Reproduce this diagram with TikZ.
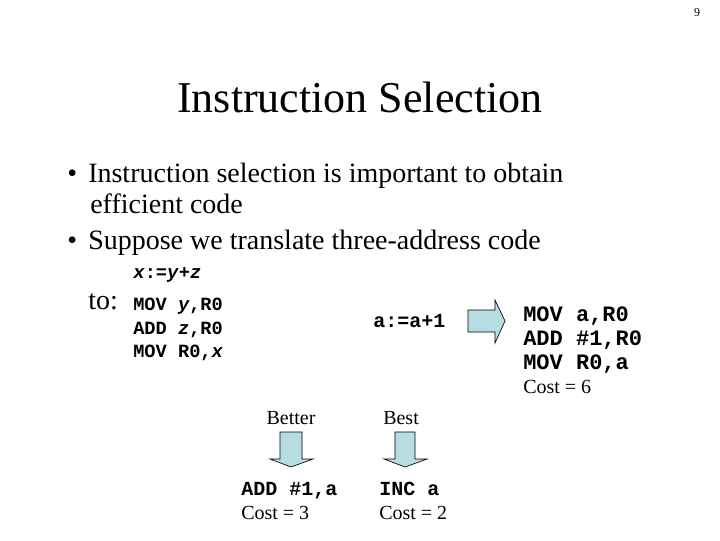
\documentclass[tikz,border=0pt]{standalone}
\usepackage{fontspec}
\setmainfont{Liberation Serif}
\setmonofont{Liberation Mono}
\begin{document}
\begin{tikzpicture}[x=0.75pt,y=-0.75pt,
  txt/.style={anchor=west,inner sep=0pt,yshift=-3pt,text height=1.5ex,text depth=0.4ex,font=\fontsize{21}{24}\selectfont},
  code/.style={anchor=west,inner sep=0pt,yshift=-2pt,text height=1.5ex,text depth=0.4ex,font=\fontsize{15}{17}\selectfont\ttfamily\bfseries},
  lcode/.style={code,font=\fontsize{14}{15}\selectfont\ttfamily\bfseries},
  rcode/.style={code,font=\fontsize{16.5}{18}\selectfont\ttfamily\bfseries},
  small/.style={anchor=west,inner sep=0pt,yshift=-2pt,text height=1.5ex,text depth=0.4ex,font=\fontsize{15}{17}\selectfont},
  fat/.style={fill={rgb,255:red,183;green,221;blue,226},draw=black,line width=0.5pt}]
\useasboundingbox (0,0) rectangle (720,540);
\node[inner sep=0pt,font=\fontsize{9}{10}\selectfont] (pg) at (697,13) {9};
\node[inner sep=0pt,font=\fontsize{33}{36}\selectfont] (title) at (360,97) {Instruction Selection};
\node[txt] (b1) at (67,175) {•};
\node[txt] (l1) at (88,175) {Instruction selection is important to obtain};
\node[txt] (l2) at (90,206) {efficient code};
\node[txt] (b2) at (67,242) {•};
\node[txt] (l3) at (88,242) {Suppose we translate three-address code};
\node[lcode] (c0) at (133,272) {\textit{x}:=\textit{y}+\textit{z}};
\node[txt] (to) at (88,302) {to:};
\node[lcode] (c1) at (133,304) {MOV \textit{y},R0};
\node[lcode] (c2) at (133,328) {ADD \textit{z},R0};
\node[lcode] (c3) at (133,351) {MOV R0,\textit{x}};
\node[code] (a) at (373,321) {a:=a+1};
\node[rcode] (r1) at (523,315) {MOV a,R0};
\node[rcode] (r2) at (523,339) {ADD \#1,R0};
\node[rcode] (r3) at (523,363) {MOV R0,a};
\node[small] (r4) at (523,387) {Cost = 6};
\node[small,anchor=center] (bet) at (291,418) {Better};
\node[small] (best) at (383,418) {Best};
\node[code] (d1) at (241,489) {ADD \#1,a};
\node[small] (d2) at (241,513) {Cost = 3};
\node[code] (e1) at (379,489) {INC a};
\node[small] (e2) at (379,513) {Cost = 2};
\draw[fat] (468,310) -- (495,310) -- (495,300) -- (505,321) -- (495,343) -- (495,332) -- (468,332) -- cycle;
\draw[fat] (280,432) -- (302,432) -- (302,459) -- (313,459) -- (291,467) -- (270,459) -- (280,459) -- cycle;
\draw[fat] (395,432) -- (415,432) -- (415,459) -- (427,459) -- (405,467) -- (384,459) -- (395,459) -- cycle;
\end{tikzpicture}
\end{document}
